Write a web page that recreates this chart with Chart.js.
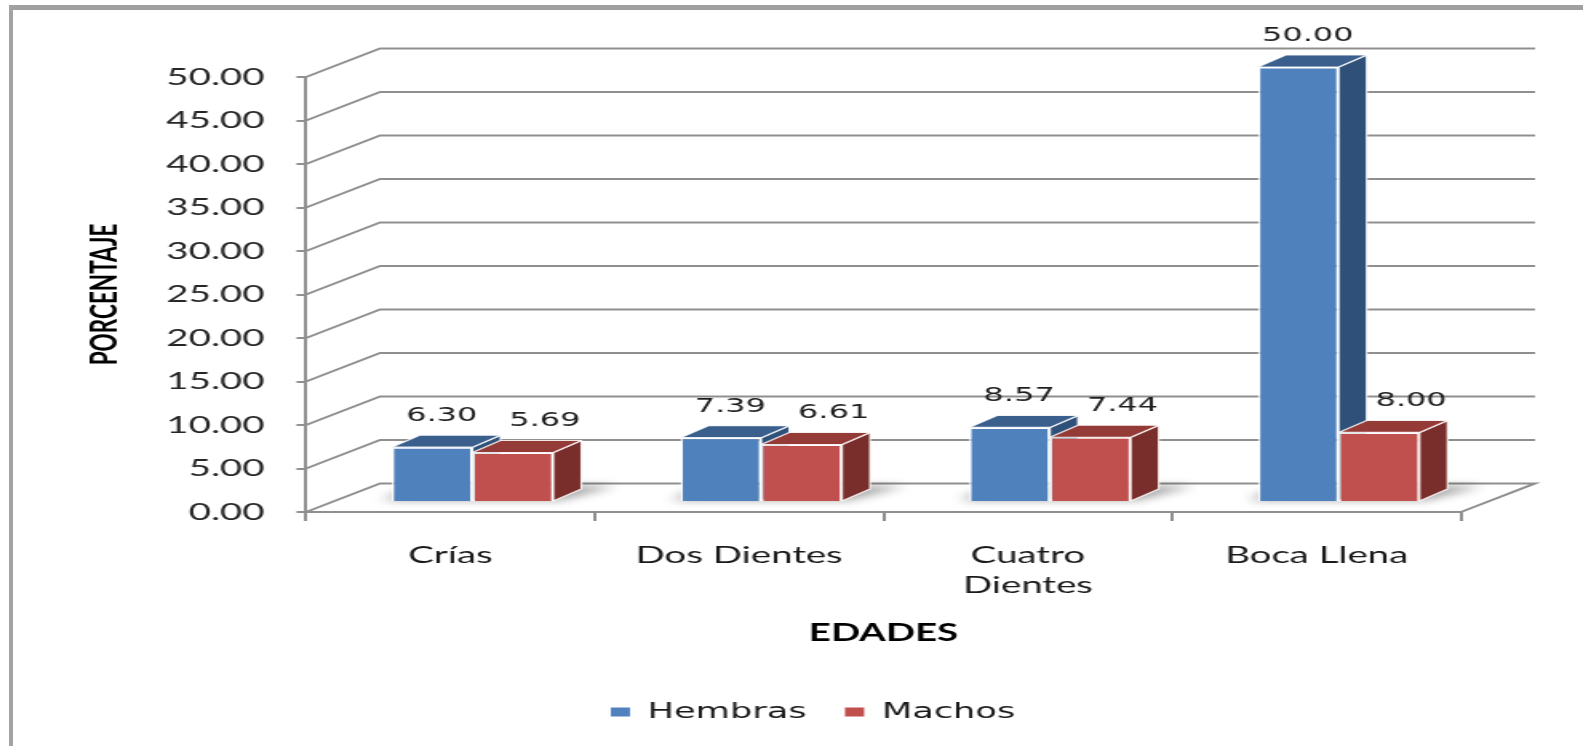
<!DOCTYPE html>
<html><head><meta charset="utf-8">
<script src="https://cdn.jsdelivr.net/npm/chart.js@4.4.0/dist/chart.umd.min.js"></script>
<style>
html,body{margin:0;padding:0;background:#fff;overflow:hidden;width:1583px;height:746px;}
#frame{position:absolute;left:9px;top:5px;width:1700px;height:900px;border-left:4px solid #a3a3a3;border-top:5px solid #a0a0a0;}
#wrap{position:absolute;left:0;top:0;width:990px;height:746px;transform:scaleX(1.59899);transform-origin:0 0;}
</style></head><body>
<div id="frame"></div>
<div id="wrap"><canvas id="c"></canvas></div>
<script>
// ---- data ----
const categories = ['Crías', 'Dos Dientes', ['Cuatro', 'Dientes'], 'Boca Llena'];
const hembras = [6.30, 7.39, 8.57, 50.00];
const machos = [5.69, 6.61, 7.44, 8.00];
const seriesNames = ['Hembras', 'Machos'];
const yMin = 0, yMax = 50, yStep = 5;
const yTitle = 'PORCENTAJE';
const xTitle = 'EDADES';

// ---- styling (3D look) ----
const BACK = {dx: 46.3, dy: -28.6};   // back wall offset
const SHIFT = {dx: 13.8, dy: -10};    // bar plane offset
const DEPTH = {dx: 17.5, dy: -12};    // bar depth
const frontColors = ['#4F81BD', '#C0504D'];
const faceColors = [{top: '#3A5F8D', side: '#2F5179'}, {top: '#943A37', side: '#7A2E2C'}];
const labelDx = [6, 20];
const gridColor = '#8f8f8f';

function drawExtras(ctx, bar, i) {
  const {x, y, base, width} = bar.getProps(['x', 'y', 'base', 'width'], true);
  const l = x - width / 2, r = x + width / 2;
  ctx.save();
  ctx.lineWidth = 1.2; ctx.strokeStyle = 'rgba(255,255,255,0.85)'; ctx.lineJoin = 'round';
  ctx.beginPath();
  ctx.moveTo(r, y); ctx.lineTo(r + DEPTH.dx, y + DEPTH.dy);
  ctx.lineTo(r + DEPTH.dx, base + DEPTH.dy); ctx.lineTo(r, base); ctx.closePath();
  ctx.fillStyle = faceColors[i].side; ctx.fill(); ctx.stroke();
  ctx.beginPath();
  ctx.moveTo(l, y); ctx.lineTo(l + DEPTH.dx, y + DEPTH.dy);
  ctx.lineTo(r + DEPTH.dx, y + DEPTH.dy); ctx.lineTo(r, y); ctx.closePath();
  ctx.fillStyle = faceColors[i].top; ctx.fill(); ctx.stroke();
  ctx.restore();
}

const threeD = {
  id: 'threeD',
  beforeDatasetsDraw(chart) {
    const {ctx, chartArea: a, scales: {y}} = chart;
    ctx.save();
    ctx.strokeStyle = gridColor; ctx.lineWidth = 2;
    y.ticks.forEach(t => {
      const py = y.getPixelForValue(t.value);
      ctx.beginPath();
      ctx.moveTo(a.left, py);
      ctx.lineTo(a.left + BACK.dx, py + BACK.dy);
      ctx.lineTo(a.right + BACK.dx, py + BACK.dy);
      if (t.value === yMin) ctx.lineTo(a.right, py);
      ctx.stroke();
    });
    ctx.restore();
    ctx.save();
    ctx.translate(SHIFT.dx, SHIFT.dy);
    const m0 = chart.getDatasetMeta(0).data, m1 = chart.getDatasetMeta(1).data;
    ctx.save();
    ctx.filter = 'blur(4px)';
    ctx.fillStyle = 'rgba(0,0,0,0.38)';
    m0.forEach((b0, j) => {
      const b1 = m1[j];
      const l = Math.min(b0.x - b0.width / 2, b1.x - b1.width / 2);
      const r = Math.max(b0.x + b0.width / 2, b1.x + b1.width / 2);
      const base = b0.base;
      ctx.beginPath();
      ctx.moveTo(l - 6, base - 1);
      ctx.lineTo(r + 4, base - 1);
      ctx.lineTo(r + DEPTH.dx + 22, base + DEPTH.dy - 3);
      ctx.lineTo(l + DEPTH.dx - 4, base + DEPTH.dy - 3);
      ctx.closePath();
      ctx.fill();
    });
    ctx.restore();
  },
  afterDatasetsDraw(chart) {
    const ctx = chart.ctx;
    const metas = chart.data.datasets.map((d, i) => chart.getDatasetMeta(i).data);
    metas[0].forEach((_, j) => {
      metas.forEach((m, i) => {
        if (i > 0) m[j].draw(ctx);
        drawExtras(ctx, m[j], i);
      });
    });
    ctx.save();
    ctx.font = '20px "DejaVu Sans"'; ctx.fillStyle = '#1e1e1e';
    ctx.textAlign = 'center'; ctx.textBaseline = 'alphabetic';
    chart.data.datasets.forEach((ds, i) => {
      metas[i].forEach((bar, j) => {
        ctx.fillText(ds.data[j].toFixed(2), bar.x + labelDx[i], bar.y - 26);
      });
    });
    ctx.restore();
    ctx.restore();
  }
};

new Chart(document.getElementById('c'), {
  type: 'bar',
  data: {
    labels: categories,
    datasets: [
      {label: seriesNames[0], data: hembras, backgroundColor: frontColors[0], borderColor: 'rgba(255,255,255,0.85)', borderWidth: 1.5, clip: false},
      {label: seriesNames[1], data: machos, backgroundColor: frontColors[1], borderColor: 'rgba(255,255,255,0.85)', borderWidth: 1.5, clip: false}
    ]
  },
  options: {
    responsive: true, maintainAspectRatio: false, animation: false,
    events: [],
    categoryPercentage: 0.56, barPercentage: 1.0,
    layout: {padding: {left: 40, right: 13.2, top: 77, bottom: 13}},
    plugins: {
      tooltip: {enabled: false},
      legend: {
        position: 'bottom',
        labels: {
          boxWidth: 12, boxHeight: 9, padding: 24, color: '#1a1a1a',
          font: {family: '"DejaVu Sans"', size: 22},
          generateLabels: (chart) => Chart.defaults.plugins.legend.labels.generateLabels(chart)
            .map(l => Object.assign(l, {lineWidth: 0}))
        }
      }
    },
    scales: {
      x: {
        ticks: {font: {family: 'Lato', size: 24, lineHeight: 1.25}, color: '#1a1a1a', padding: 19, maxRotation: 0, autoSkip: false},
        grid: {display: true, drawOnChartArea: false, drawTicks: true, tickLength: 9, color: gridColor, lineWidth: 2, offset: true},
        border: {display: true, color: gridColor, width: 2},
        title: {display: true, text: xTitle, font: {family: 'Lato', size: 24, weight: 'bold'}, color: '#000', padding: {top: 0, bottom: 29.6}},
        afterFit: s => { s.height = 165; }
      },
      y: {
        min: yMin, max: yMax,
        ticks: {stepSize: yStep, callback: v => Number(v).toFixed(2), font: {family: 'Lato', size: 24}, color: '#262626', padding: 20},
        grid: {display: true, drawOnChartArea: false, drawTicks: true, tickLength: 6, color: gridColor, lineWidth: 2},
        border: {display: true, color: gridColor, width: 2},
        title: {display: true, text: yTitle, font: {family: '"Liberation Sans Narrow", Lato', size: 22.5, weight: 'bold'}, color: '#000', padding: {top: 12, bottom: 0}},
        afterFit: s => { s.width = 151.4; }
      },
      yR: {
        position: 'right', display: true, min: yMin, max: yMax,
        ticks: {display: false}, grid: {display: false}, border: {display: false},
        afterFit: s => { s.width = 63.1; }
      }
    }
  },
  plugins: [threeD]
});
</script>
</body></html>
